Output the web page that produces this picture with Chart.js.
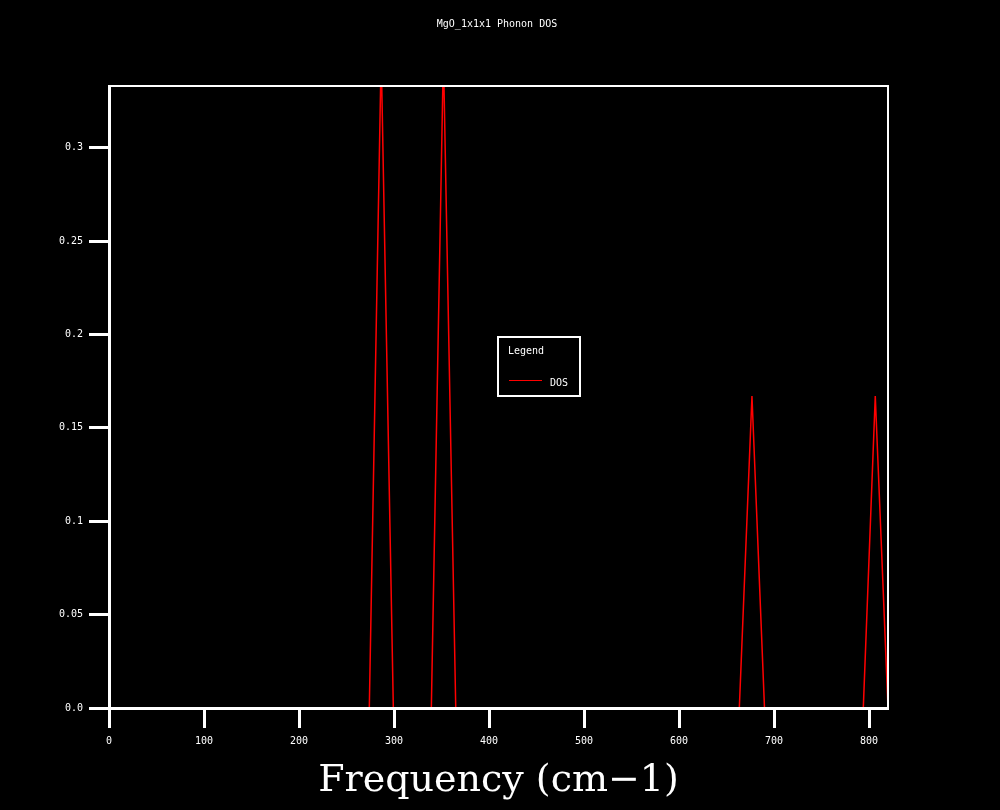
<!DOCTYPE html>
<html>
<head>
<meta charset="utf-8">
<script src="https://cdn.jsdelivr.net/npm/chart.js@4/dist/chart.umd.min.js"></script>
<style>
  html, body { margin: 0; padding: 0; background: #000; }
  canvas { display: block; }
</style>
</head>
<body>
<canvas id="dosChart" width="1000" height="810"></canvas>
<script>
/* =====================
   data
===================== */
const FREQ = [0, 274, 286.5, 299.3, 339.3, 352, 365, 663.5, 676.8, 690, 794, 806.6, 820];
const DOS  = [0, 0, 0.35, 0, 0, 0.35, 0, 0, 0.167, 0, 0, 0.167, 0];
const X_TICKS = [0, 100, 200, 300, 400, 500, 600, 700, 800];
const Y_TICKS = [0, 0.05, 0.1, 0.15, 0.2, 0.25, 0.3];
const TITLE = 'MgO_1x1x1 Phonon DOS';
const X_LABEL = 'Frequency (cm\u22121)';
const SERIES_NAME = 'DOS';

const MONO = '"DejaVu Sans Mono", monospace';

const points = FREQ.map((f, i) => ({ x: f, y: DOS[i] }));

// black page, title, frame and legend box
const decor = {
    id: 'decor',
    beforeDraw(chart) {
        const c = chart.ctx;
        c.save();
        c.fillStyle = '#000';
        c.fillRect(0, 0, chart.width, chart.height);
        c.restore();
    },
    afterDraw(chart) {
        const c = chart.ctx;
        const a = chart.chartArea;
        c.save();
        c.strokeStyle = '#fff';
        c.lineWidth = 2;
        c.strokeRect(a.left, a.top, a.right - a.left, a.bottom - a.top);

        c.fillStyle = '#fff';
        c.font = '10px ' + MONO;
        c.textAlign = 'center';
        c.textBaseline = 'middle';
        c.fillText(TITLE, 497, 24);

        // legend
        c.lineWidth = 2;
        c.strokeRect(498, 337, 82, 59);
        c.textAlign = 'left';
        c.fillText('Legend', 508, 351);
        c.fillText(SERIES_NAME, 550, 383);
        c.strokeStyle = '#ff0000';
        c.lineWidth = 1;
        c.beginPath();
        c.moveTo(509, 380.5);
        c.lineTo(542, 380.5);
        c.stroke();
        c.restore();
    }
};

new Chart(document.getElementById('dosChart'), {
    type: 'scatter',
    data: {
        datasets: [{
            label: SERIES_NAME,
            data: points,
            showLine: true,
            borderColor: '#ff0000',
            borderWidth: 1.5,
            pointRadius: 0,
            tension: 0
        }]
    },
    options: {
        responsive: false,
        animation: false,
        layout: { padding: { top: 86, right: 112, left: 0, bottom: 0 } },
        plugins: {
            legend: { display: false },
            title: { display: false },
            tooltip: { enabled: false }
        },
        scales: {
            x: {
                type: 'linear',
                min: 0,
                max: 820,
                afterBuildTicks(scale) {
                    scale.ticks = X_TICKS.map(v => ({ value: v }));
                },
                afterFit(scale) { scale.height = 102; },
                ticks: {
                    color: '#fff',
                    font: { family: MONO, size: 10 },
                    padding: 7,
                    maxRotation: 0,
                    includeBounds: false
                },
                grid: {
                    drawOnChartArea: false,
                    drawTicks: true,
                    tickLength: 20,
                    tickWidth: 3,
                    tickColor: '#fff'
                },
                border: { display: true, color: '#fff', width: 3 },
                title: {
                    display: true,
                    text: X_LABEL,
                    color: '#fff',
                    font: { family: '"DejaVu Serif", serif', size: 38 },
                    padding: { top: 8, bottom: 6 }
                }
            },
            y: {
                type: 'linear',
                min: 0,
                max: 0.333,
                afterBuildTicks(scale) {
                    scale.ticks = Y_TICKS.map(v => ({ value: v }));
                },
                afterFit(scale) { scale.width = 109; },
                ticks: {
                    color: '#fff',
                    font: { family: MONO, size: 10 },
                    padding: 6,
                    includeBounds: false,
                    callback: v => v === 0 ? '0.0' : String(+v.toFixed(2))
                },
                grid: {
                    drawOnChartArea: false,
                    drawTicks: true,
                    tickLength: 20,
                    tickWidth: 3,
                    tickColor: '#fff'
                },
                border: { display: true, color: '#fff', width: 3 }
            }
        }
    },
    plugins: [decor]
});
</script>
</body>
</html>
